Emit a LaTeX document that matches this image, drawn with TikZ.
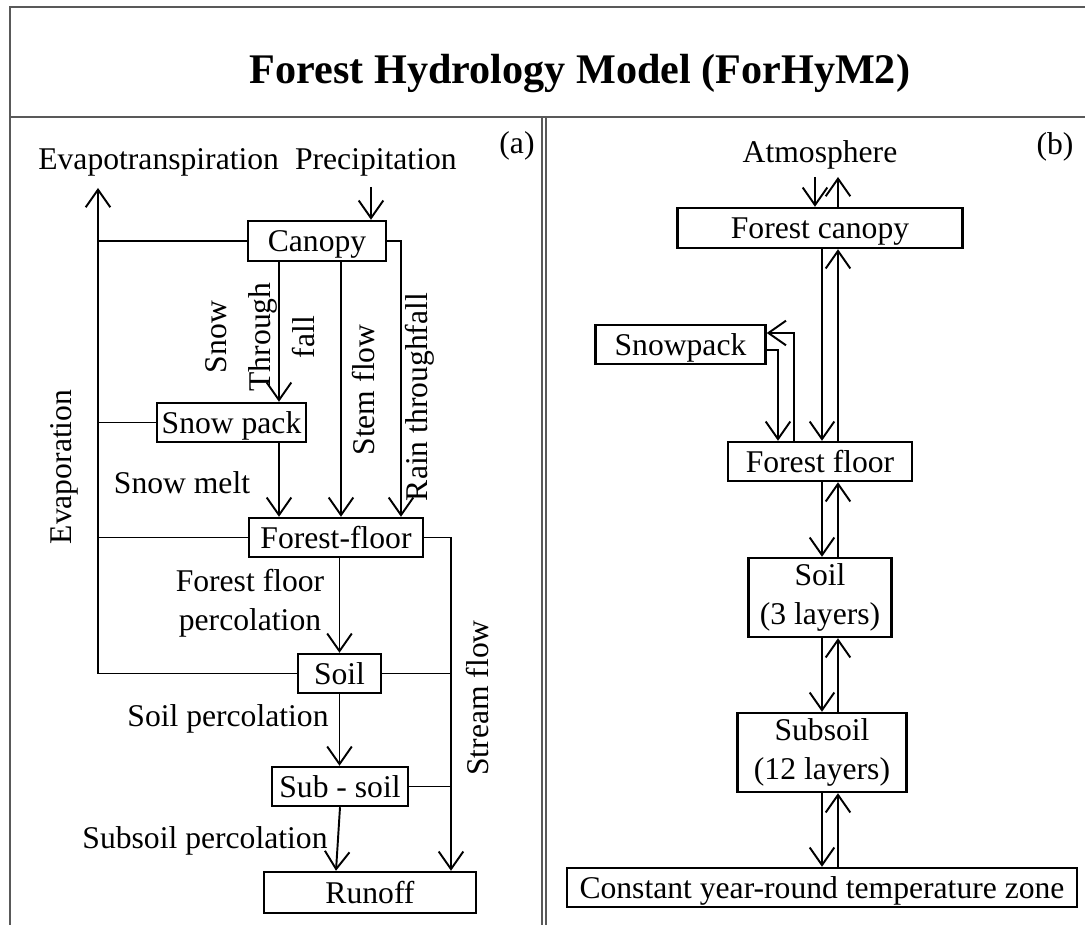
\documentclass[tikz,border=0pt]{standalone}
\usepackage{fontspec}
\setmainfont{Liberation Serif}
\usetikzlibrary{arrows.meta}

\begin{document}
\begin{tikzpicture}[x=0.02cm,y=-0.02cm,
  every node/.style={font=\fontsize{18}{22}\selectfont,inner sep=0pt},
  box/.style={draw,line width=1.4pt,text height=16pt,text depth=3.5pt},
  box2/.style={draw,line width=1.4pt,align=center},
  sz/.style 2 args={minimum width=#1*0.02cm,minimum height=#2*0.02cm},
  flow/.style={line width=1.1pt,-{Straight Barb[length=10pt,width=14pt]}},
  link/.style={line width=1.1pt},
  frame/.style={draw=black!65,line width=0.8pt}]
  \useasboundingbox (0,0) rectangle (1085,925);
  \draw[frame] (1085,7) -- (10,7) -- (10,925);
  \draw[frame] (10,117) -- (1085,117);
  \draw[frame] (542,117) -- (542,925) (546,117) -- (546,925);
  \path (580,84) node[anchor=base,font=\fontsize{24}{28}\selectfont\bfseries] (title) {Forest Hydrology Model (ForHyM2)};
  % (a)
  \path (38,170) node[anchor=base west] (evt) {Evapotranspiration}
    (457,170) node[anchor=base east] (prec) {Precipitation}
    (517,154) node[anchor=base] (tagA) {(a)};
  \path (317,241) node[box,sz={138}{40}] (canopy) {Canopy}
    (231.5,422.5) node[box,sz={149}{39}] (snow) {Snow pack}
    (336,537.5) node[box,sz={174}{39}] (floor) {Forest-floor}
    (339.5,673.5) node[box,sz={83}{39}] (soil) {Soil}
    (340,786.5) node[box,sz={136}{39}] (sub) {Sub - soil}
    (370,892.5) node[box,sz={212}{41}] (runoff) {Runoff};
  \coordinate (ev) at (98,188);
  \coordinate (pr) at (371,187);
  \coordinate (xsf) at (279,0);
  \coordinate (xst) at (341,0);
  \coordinate (xrt) at (401,0);
  \coordinate (xsm) at (451,0);
  \coordinate (xsp) at (336,0);
  \draw[flow] (pr) -- (pr |- canopy.north);
  \draw[flow] (soil.west -| ev) -- (ev);
  \draw[link] (canopy.west) -- (canopy.west -| ev);
  \draw[link] (snow.west) -- (snow.west -| ev);
  \draw[link] (floor.west) -- (floor.west -| ev);
  \draw[link] (soil.west) -- (soil.west -| ev);
  \draw[flow] (canopy.south -| xsf) -- (snow.north -| xsf);
  \draw[flow] (canopy.south -| xst) -- (floor.north -| xst);
  \draw[flow] (canopy.east) -| (floor.north -| xrt);
  \draw[flow] (snow.south -| xsf) -- (floor.north -| xsf);
  \draw[flow] (floor.south -| soil.north) -- (soil.north);
  \draw[flow] (soil.south) -- (sub.north -| soil.south);
  \draw[flow] (sub.south) -- (runoff.north -| xsp);
  \draw[flow] (floor.east) -| (runoff.north -| xsm);
  \draw[link] (soil.east) -- (soil.east -| xsm);
  \draw[link] (sub.east) -- (sub.east -| xsm);
  \path (64,467) node[rotate=90] (evap) {Evaporation}
    (260,337) node[rotate=90,align=center,font=\fontsize{18}{25}\selectfont] (sft) {Snow\\Through\\fall}
    (364,390) node[rotate=90] (stem) {Stem flow}
    (420,397) node[rotate=90] (rain) {Rain throughfall}
    (182,483) node (melt) {Snow melt}
    (250,603) node[align=center] (ffp) {Forest floor\\percolation}
    (228,719) node (sp) {Soil percolation}
    (205,841) node (ssp) {Subsoil percolation}
    (478,698) node[rotate=90] (stream) {Stream flow};
  % (b)
  \path (820,163) node[anchor=base] (atm) {Atmosphere}
    (1055,155) node[anchor=base] (tagB) {(b)}
    (820,228) node[box,sz={285}{40}] (fcan) {Forest canopy}
    (680.5,344.5) node[box,sz={170}{39}] (spack) {Snowpack}
    (820,461.5) node[box,sz={184}{39}] (ffloor) {Forest floor}
    (820,597.5) node[box2,sz={143}{79}] (bsoil) {Soil\\(3 layers)}
    (822,752.5) node[box2,sz={169}{79}] (bsub) {Subsoil\\(12 layers)}
    (822,887.5) node[box,sz={510}{39}] (czone) {Constant year-round temperature zone};
  \coordinate (ain) at (815,177);
  \coordinate (aout) at (838,177);
  \coordinate (xd) at (822,0);
  \coordinate (xu) at (838,0);
  \coordinate (so) at (778,350);
  \coordinate (sr) at (794,333);
  \draw[flow] (ain) -- (ain |- fcan.north);
  \draw[flow] (aout |- fcan.north) -- (aout);
  \foreach \a/\b in {fcan/ffloor,ffloor/bsoil,bsoil/bsub,bsub/czone} {
    \draw[flow] (\a.south -| xd) -- (\b.north -| xd);
    \draw[flow] (\b.north -| xu) -- (\a.south -| xu);
  }
  \draw[flow] (spack.east |- so) -- (so) -- (so |- ffloor.north);
  \draw[flow] (sr |- ffloor.north) -- (sr) -- (sr -| spack.east);
\end{tikzpicture}
\end{document}
